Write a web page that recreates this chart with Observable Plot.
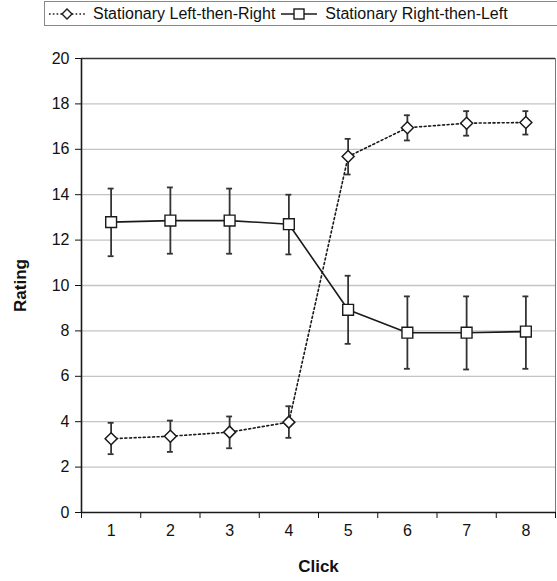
<!DOCTYPE html>
<html>
<head>
<meta charset="utf-8">
<script src="https://cdn.jsdelivr.net/npm/d3@7"></script>
<script src="https://cdn.jsdelivr.net/npm/@observablehq/plot@0.6"></script>
<style>
  body { margin: 0; background: #fff; font-family: Arial, "Liberation Sans", sans-serif; }
  #legend { margin-left: 44px; margin-top: 1px; width: 520px; height: 25px; border: 1px solid #888; box-sizing: border-box; display: flex; align-items: center; font-size: 16px; color: #111; white-space: nowrap; overflow: hidden; }
  #legend svg { display: block; }
  #chart { margin-top: 2px; }
  #chart svg { display: block; }
</style>
</head>
<body>
<div id="legend"></div>
<div id="chart"></div>
<script>
const clicks = [1, 2, 3, 4, 5, 6, 7, 8];
const seriesNames = ["Stationary Left-then-Right", "Stationary Right-then-Left"];
const leftRightMean = [3.25, 3.36, 3.54, 3.98, 15.68, 16.95, 17.15, 17.18];
const leftRightLow  = [2.57, 2.67, 2.83, 3.29, 14.89, 16.39, 16.60, 16.65];
const leftRightHigh = [3.95, 4.05, 4.23, 4.68, 16.46, 17.50, 17.68, 17.68];
const rightLeftMean = [12.79, 12.86, 12.86, 12.70, 8.93, 7.92, 7.92, 7.97];
const rightLeftLow  = [11.29, 11.40, 11.40, 11.37, 7.43, 6.33, 6.30, 6.33];
const rightLeftHigh = [14.27, 14.32, 14.27, 14.00, 10.43, 9.52, 9.52, 9.52];
const yTicks = [0, 2, 4, 6, 8, 10, 12, 14, 16, 18, 20];
const gridTicks = [2, 4, 6, 8, 10, 12, 14, 16, 18];
const xBoundaries = [0.5, 1.5, 2.5, 3.5, 4.5, 5.5, 6.5, 7.5, 8.5];
const axisTitles = [{text: "Rating", x: 0.5, y: 10}, {text: "Click", x: 4.5, y: 0}];

const ink = "#1a1a1a";
const errInk = "#333";
const cap = 0.05;

try {
  const lr = clicks.map((c, i) => ({x: c, y: leftRightMean[i], lo: leftRightLow[i], hi: leftRightHigh[i], a: c - cap, b: c + cap}));
  const rl = clicks.map((c, i) => ({x: c, y: rightLeftMean[i], lo: rightLeftLow[i], hi: rightLeftHigh[i], a: c - cap, b: c + cap}));

  const chart = Plot.plot({
    width: 557,
    height: 553,
    marginTop: 30,
    marginBottom: 69,
    marginLeft: 81,
    marginRight: 2,
    style: {fontFamily: "Arial, 'Liberation Sans', sans-serif", fontSize: "16px", color: "#111", background: "#fff"},
    x: {domain: [0.5, 8.5]},
    y: {domain: [0, 20]},
    marks: [
      Plot.ruleY(gridTicks, {stroke: "#c4c4c4", strokeWidth: 1.3}),
      Plot.ruleY([20], {stroke: "#333", strokeWidth: 1.3}),
      Plot.ruleX([8.5], {stroke: "#777", strokeWidth: 1}),
      Plot.axisY({ticks: yTicks, tickSize: 6, tickFormat: () => "", label: null}),
      Plot.axisX({ticks: xBoundaries, tickSize: 6, tickFormat: () => "", label: null}),
      Plot.text(yTicks, {y: d => d, text: d => String(d), frameAnchor: "left", dx: -12, textAnchor: "end", fontSize: 16, fill: "#111"}),
      Plot.text(clicks, {x: d => d, text: d => String(d), frameAnchor: "bottom", dy: 23, fontSize: 16, fill: "#111"}),
      Plot.ruleX([0.5], {stroke: ink, strokeWidth: 1.6}),
      Plot.ruleY([0], {stroke: ink, strokeWidth: 1.6}),
      Plot.text(axisTitles.slice(0, 1), {x: "x", y: "y", text: "text", dx: -61, rotate: -90, fontSize: 17, fontWeight: "bold", fill: "#111"}),
      Plot.text(axisTitles.slice(1), {x: "x", y: "y", text: "text", dy: 54, fontSize: 17, fontWeight: "bold", fill: "#111"}),
      Plot.line(lr, {x: "x", y: "y", stroke: ink, strokeWidth: 1.6, strokeDasharray: "2,2.6"}),
      Plot.line(rl, {x: "x", y: "y", stroke: ink, strokeWidth: 1.6}),
      Plot.ruleX(lr, {x: "x", y1: "lo", y2: "hi", stroke: errInk, strokeWidth: 1.8}),
      Plot.ruleY(lr, {y: "lo", x1: "a", x2: "b", stroke: errInk, strokeWidth: 1.8}),
      Plot.ruleY(lr, {y: "hi", x1: "a", x2: "b", stroke: errInk, strokeWidth: 1.8}),
      Plot.ruleX(rl, {x: "x", y1: "lo", y2: "hi", stroke: errInk, strokeWidth: 1.8}),
      Plot.ruleY(rl, {y: "lo", x1: "a", x2: "b", stroke: errInk, strokeWidth: 1.8}),
      Plot.ruleY(rl, {y: "hi", x1: "a", x2: "b", stroke: errInk, strokeWidth: 1.8}),
      Plot.dot(lr, {x: "x", y: "y", symbol: "diamond2", r: 5.4, fill: "#fff", stroke: ink, strokeWidth: 1.5}),
      Plot.dot(rl, {x: "x", y: "y", symbol: "square", r: 6.1, fill: "#fff", stroke: ink, strokeWidth: 1.4})
    ]
  });
  document.getElementById("chart").appendChild(chart);
} catch (e) {
  document.getElementById("chart").textContent = "ERROR: " + e.message;
}

const legend = document.getElementById("legend");
function glyph(kind) {
  const ns = "http://www.w3.org/2000/svg";
  const svg = document.createElementNS(ns, "svg");
  svg.setAttribute("width", "42");
  svg.setAttribute("height", "20");
  const line = document.createElementNS(ns, "line");
  line.setAttribute("x1", "3"); line.setAttribute("x2", "39");
  line.setAttribute("y1", "10"); line.setAttribute("y2", "10");
  line.setAttribute("stroke", ink); line.setAttribute("stroke-width", "1.4");
  if (kind === "diamond") line.setAttribute("stroke-dasharray", "1.6,2.2");
  svg.appendChild(line);
  let shape;
  if (kind === "diamond") {
    shape = document.createElementNS(ns, "path");
    shape.setAttribute("d", "M21,5 L26,10 L21,15 L16,10 Z");
  } else {
    shape = document.createElementNS(ns, "rect");
    shape.setAttribute("x", "16"); shape.setAttribute("y", "5");
    shape.setAttribute("width", "10"); shape.setAttribute("height", "10");
  }
  shape.setAttribute("fill", "#fff"); shape.setAttribute("stroke", ink); shape.setAttribute("stroke-width", "1.4");
  svg.appendChild(shape);
  return svg;
}
const kinds = ["diamond", "square"];
seriesNames.forEach((name, i) => {
  const item = document.createElement("span");
  item.style.display = "flex";
  item.style.alignItems = "center";
  item.style.marginLeft = i === 0 ? "1px" : "3px";
  item.appendChild(glyph(kinds[i]));
  const t = document.createElement("span");
  t.textContent = name;
  t.style.marginLeft = "5px";
  item.appendChild(t);
  legend.appendChild(item);
});
</script>
</body>
</html>
